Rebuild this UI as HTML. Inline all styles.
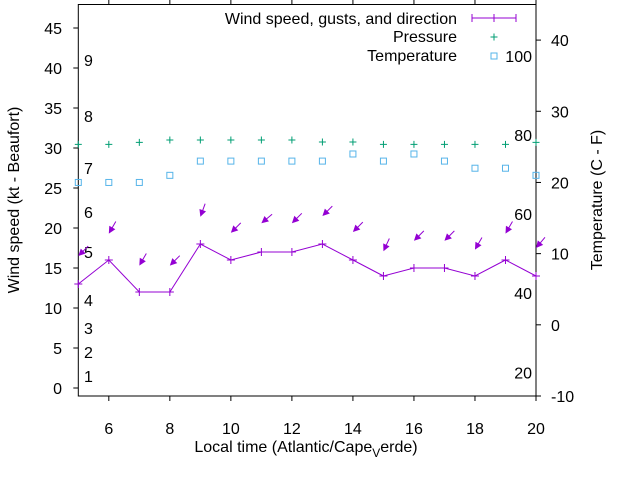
<!DOCTYPE html>
<html><head><meta charset="utf-8"><style>
body{margin:0;background:#fff}
svg{display:block;font-family:"Liberation Sans",sans-serif}
</style></head><body>
<svg id="chart" width="640" height="480" viewBox="0 0 640 480">
<rect width="640" height="480" fill="#fff"/>
<g id="axes"></g>
<g id="marks"></g>
<g id="legend">
  <text x="457" y="24" text-anchor="end" font-size="16">Wind speed, gusts, and direction</text>
  <line x1="472" y1="18" x2="516" y2="18" stroke="#9400d3" stroke-width="1"/>
  <line x1="472" y1="14" x2="472" y2="22" stroke="#9400d3"/>
  <line x1="516" y1="14" x2="516" y2="22" stroke="#9400d3"/>
  <path d="M490 18h8M494 14v8" stroke="#9400d3"/>
  <text x="457" y="42" text-anchor="end" font-size="16">Pressure</text>
  <path d="M490.5 37h7M494 33.5v7" stroke="#009e73"/>
  <text x="457" y="61" text-anchor="end" font-size="16">Temperature</text>
  <rect x="491" y="53" width="6" height="6" fill="none" stroke="#56b4e9"/>
</g>
</svg>
<script>
const hours = [5,6,7,8,9,10,11,12,13,14,15,16,17,18,19,20];
const windSpeed = [13,16,12,12,18,16,17,17,18,16,14,15,15,14,16,14];
const gustSpeed = [16.5,19.3,15.3,15.3,21.4,19.4,20.6,20.6,21.5,19.5,17.1,18.4,18.4,17.3,19.3,17.5];
const windDir = [45,30,30,45,20,45,50,45,45,45,25,45,45,30,30,40];
const pressure = [30.45,30.45,30.7,31.0,31.0,31.0,31.0,31.0,30.75,30.75,30.45,30.45,30.45,30.45,30.45,30.7];
const temperatureC = [20,20,20,21,23,23,23,23,23,24,23,24,23,22,22,21];
const xTicks = [6,8,10,12,14,16,18,20];
const yLeftTicks = [0,5,10,15,20,25,30,35,40,45];
const yRightTicks = [-10,0,10,20,30,40];
const beaufortLabels = [["1",1.5],["2",4.5],["3",7.5],["4",11],["5",17],["6",22],["7",27.5],["8",34],["9",41]];
const fahrLabels = [20,40,60,80,100];

const L=78.3,R=536,T=4.5,B=396;
const xs=v=>L+(v-5)*(R-L)/15;
const yl=v=>388-v*8;
const yr=v=>B-(v+10)*(B-T)/55;
const NS="http://www.w3.org/2000/svg";
function mk(tag,attrs,parent,txt){const e=document.createElementNS(NS,tag);for(const k in attrs)e.setAttribute(k,attrs[k]);if(txt!==undefined)e.textContent=txt;parent.appendChild(e);return e;}
const ax=document.getElementById('axes'), mg=document.getElementById('marks');

let f=mk('rect',{x:L,y:T,width:R-L,height:B-T,fill:'none',stroke:'#000','stroke-width':1},ax);


xTicks.forEach(t=>{const x=xs(t);
 let a=mk('line',{x1:x,y1:B,x2:x,y2:B+5,stroke:'#000'},ax);
 
 
 let b=mk('line',{x1:x,y1:T,x2:x,y2:T-5,stroke:'#000'},ax);
 
 
 let l=mk('text',{x:x,y:B+38,'text-anchor':'middle','font-size':16},ax,String(t));
 
 
});
yLeftTicks.forEach(t=>{const y=yl(t);
 let a=mk('line',{x1:L-5,y1:y,x2:L,y2:y,stroke:'#000'},ax);
 
 
 let l=mk('text',{x:62,y:y+6,'text-anchor':'end','font-size':16},ax,String(t));
 
 
});
yRightTicks.forEach(t=>{const y=yr(t);
 let a=mk('line',{x1:R,y1:y,x2:R+5,y2:y,stroke:'#000'},ax);
 
 
 let l=mk('text',{x:551,y:y+6,'text-anchor':'start','font-size':16},ax,String(t));
 
 
});
beaufortLabels.forEach(([s,v])=>{
 let l=mk('text',{x:84,y:yl(v)+6,'font-size':16},ax,s);
 
 
});
fahrLabels.forEach(v=>{
 let l=mk('text',{x:532,y:yr((v-32)*5/9)+6,'text-anchor':'end','font-size':16},ax,String(v));
 
 
});
let xt=mk('text',{x:306,y:452,'text-anchor':'middle','font-size':16},ax);


xt.innerHTML='Local time (Atlantic/Cape<tspan font-size="12" dy="5">V</tspan><tspan dy="-5">erde)</tspan>';
let yt=mk('text',{x:0,y:0,'text-anchor':'middle','font-size':16,transform:'translate(19,200) rotate(-90)'},ax,'Wind speed (kt - Beaufort)');


let yt2=mk('text',{x:0,y:0,'text-anchor':'middle','font-size':16,transform:'translate(602,200) rotate(-90)'},ax,'Temperature (C - F)');



let wl=mk('polyline',{points:hours.map((h,i)=>xs(h)+','+yl(windSpeed[i])).join(' '),fill:'none',stroke:'#9400d3','stroke-width':1},mg);


hours.forEach((h,i)=>{const x=xs(h),y=yl(windSpeed[i]);
 let p=mk('path',{d:`M${x-4} ${y}h8M${x} ${y-4}v8`,stroke:'#9400d3'},mg);
 
 
});
hours.forEach((h,i)=>{const x=xs(h),y=yl(gustSpeed[i]);const a=windDir[i]*Math.PI/180;
 const ux=Math.sin(a),uy=-Math.cos(a),len=14;
 const g=mk('g',{},mg);
 
 
 mk('line',{x1:x+ux*len,y1:y+uy*len,x2:x+ux*4,y2:y+uy*4,stroke:'#9400d3'},g);
 const hx=x+ux*7,hy=y+uy*7,px=-uy,py=ux;
 mk('polygon',{points:`${x},${y} ${hx+px*3.5},${hy+py*3.5} ${hx-px*3.5},${hy-py*3.5}`,fill:'#9400d3'},g);
});
hours.forEach((h,i)=>{const x=xs(h),y=yl(pressure[i]);
 let p=mk('path',{d:`M${x-3.5} ${y}h7M${x} ${y-3.5}v7`,stroke:'#009e73'},mg);
 
 
});
hours.forEach((h,i)=>{const x=xs(h),y=yr(temperatureC[i]);
 let r=mk('rect',{x:x-3,y:y-3,width:6,height:6,fill:'none',stroke:'#56b4e9'},mg);
 
 
});
</script>
</body></html>
